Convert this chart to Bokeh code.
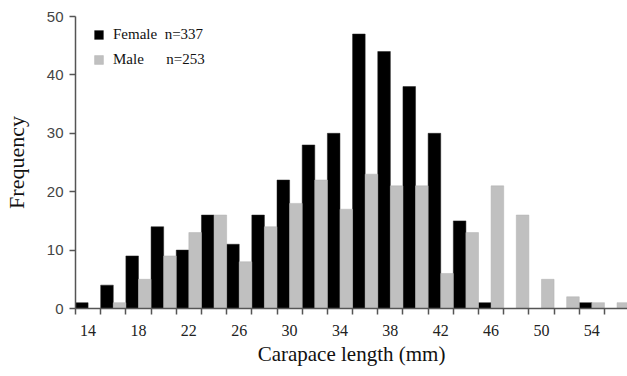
from bokeh.plotting import figure
from bokeh.models import ColumnDataSource, FixedTicker, Range1d, Legend, LegendItem
from bokeh.transform import dodge
from bokeh.embed import file_html
from bokeh.resources import INLINE

# Bin (carapace length class, mm)
bins = [14, 16, 18, 20, 22, 24, 26, 28, 30, 32, 34, 36, 38, 40, 42, 44, 46, 48, 50, 52, 54, 56]
female = [1, 4, 9, 14, 10, 16, 11, 16, 22, 28, 30, 47, 44, 38, 30, 15, 1, 0, 0, 0, 1, 0]
male = [0, 1, 5, 9, 13, 16, 8, 14, 18, 22, 17, 23, 21, 21, 6, 13, 21, 16, 5, 2, 1, 1]
label_bins = [14, 18, 22, 26, 30, 34, 38, 42, 46, 50, 54]
y_ticks = [0, 10, 20, 30, 40, 50]

female_label = "Female\u00a0\u00a0n=337"
male_label = "Male\u00a0\u00a0\u00a0\u00a0\u00a0\u00a0n=253"

bin_w = bins[1] - bins[0]
src = ColumnDataSource(dict(bin=bins, female=female, male=male))

p = figure(width=627, height=368, output_backend="svg", toolbar_location=None,
           x_range=Range1d(bins[0] - bin_w / 2, bins[-1] - bin_w / 2 + 0.915 * bin_w),
           y_range=Range1d(0, 50),
           min_border_left=75, min_border_right=0, min_border_top=16, min_border_bottom=60)

rf = p.vbar(x=dodge("bin", -bin_w / 4, range=p.x_range), top="female", width=bin_w / 2,
            source=src, fill_color="black", line_color="#222222", line_width=0.5)
rm = p.vbar(x=dodge("bin", bin_w / 4, range=p.x_range), top="male", width=bin_w / 2,
            source=src, fill_color="#c0c0c0", line_color="#b0b0b0", line_width=0.5)

p.xgrid.visible = False
p.ygrid.visible = False
p.outline_line_color = None
p.background_fill_color = "white"
p.border_fill_color = "white"

xa = p.xaxis[0]
edges = [b - bin_w / 2 for b in bins] + [bins[-1] + bin_w / 2]
xa.ticker = FixedTicker(ticks=label_bins, minor_ticks=edges)
xa.major_tick_out = 0
xa.major_tick_in = 0
xa.minor_tick_out = 6
xa.minor_tick_in = 0
xa.minor_tick_line_color = "#555555"
xa.minor_tick_line_width = 1.5
xa.axis_line_color = "#555555"
xa.axis_line_width = 1.5
xa.major_label_text_font = "Liberation Serif"
xa.major_label_text_font_size = "16px"
xa.major_label_text_color = "#222222"
xa.major_label_standoff = 10
xa.axis_label = "Carapace length (mm)"
xa.axis_label_text_font = "Liberation Serif"
xa.axis_label_text_font_size = "21px"
xa.axis_label_text_font_style = "normal"
xa.axis_label_text_color = "#111111"
xa.axis_label_standoff = 3

ya = p.yaxis[0]
ya.ticker = FixedTicker(ticks=y_ticks, minor_ticks=[])
ya.major_tick_out = 6
ya.major_tick_in = 0
ya.major_tick_line_color = "#555555"
ya.major_tick_line_width = 1.5
ya.axis_line_color = "#555555"
ya.axis_line_width = 1.5
ya.major_label_text_font = "Liberation Sans"
ya.major_label_text_font_size = "15px"
ya.major_label_text_color = "#444444"
ya.major_label_standoff = 6
ya.axis_label = "Frequency"
ya.axis_label_text_font = "Liberation Serif"
ya.axis_label_text_font_size = "22px"
ya.axis_label_text_font_style = "normal"
ya.axis_label_text_color = "#111111"
ya.axis_label_standoff = 15

legend = Legend(items=[LegendItem(label=female_label, renderers=[rf]),
                       LegendItem(label=male_label, renderers=[rm])],
                location=(18, 240))
legend.margin = 0
legend.padding = 6
legend.border_line_color = None
legend.background_fill_alpha = 0
legend.glyph_width = 11
legend.glyph_height = 11
legend.label_height = 18
legend.spacing = 7
legend.label_standoff = 9
legend.label_text_font = "Liberation Serif"
legend.label_text_font_size = "15px"
legend.label_text_font_style = "normal"
legend.label_text_color = "#111111"
p.add_layout(legend)

open("out.html", "w").write(file_html(p, INLINE))
